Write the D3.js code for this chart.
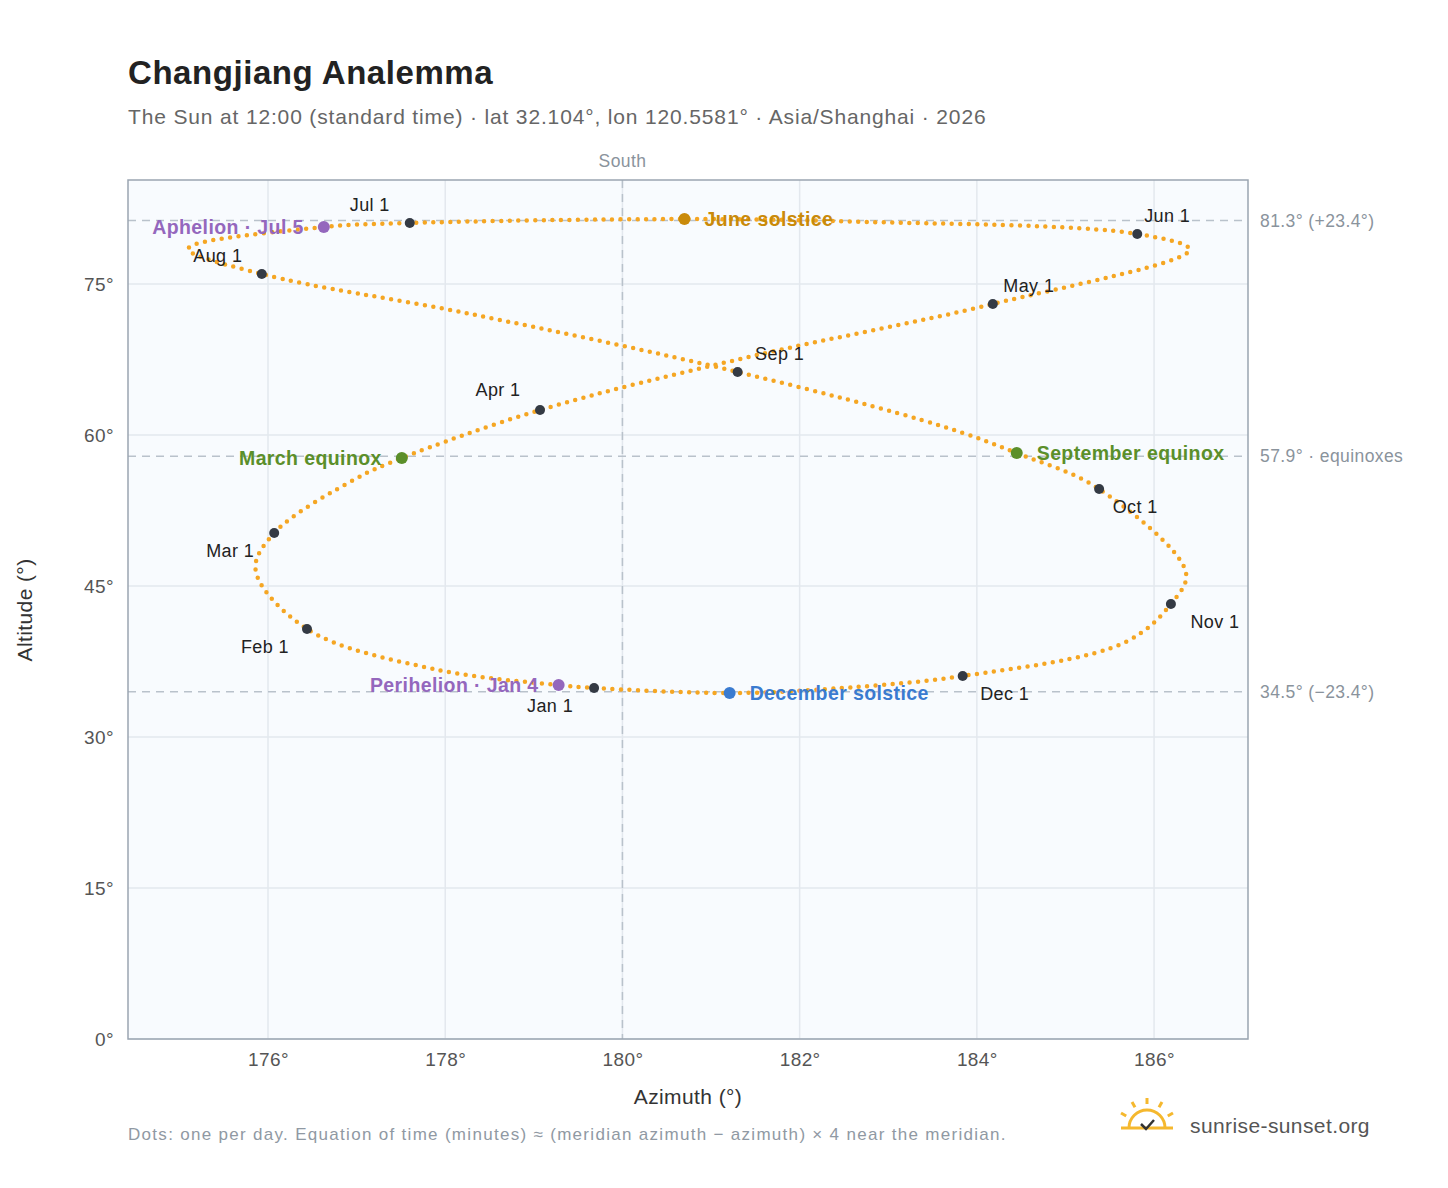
<!DOCTYPE html>
<html><head><meta charset="utf-8">
<script src="https://cdn.jsdelivr.net/npm/d3@7"></script>
<style>body{margin:0;background:#fff;font-family:"Liberation Sans",Arial,sans-serif} text{letter-spacing:0.4px}</style>
</head><body><svg id="c" width="1448" height="1188"></svg>
<script>
// Curve key points (date label, azimuth, altitude)
const curveDates = ["Jan 1","Jan 4","Jan 15","Feb 1","Feb 20","Mar 1","Mar 15","Mar 20","Apr 1","Apr 15","May 1","May 20","Jun 1","Jun 15","Jun 21","Jul 1","Jul 5","Jul 20","Aug 1","Aug 15","Sep 1","Sep 15","Sep 23","Oct 1","Oct 22","Nov 1","Nov 15","Dec 1","Dec 15","Dec 21"];
const curveAz = [179.68,179.28,177.9,176.44,175.86,176.07,177.0,177.51,179.07,181.45,184.18,186.4,185.81,182.6,180.70,177.60,176.63,175.1,175.93,178.3,181.30,183.6,184.45,185.38,186.36,186.19,185.67,183.84,182.2,181.21];
const curveAlt = [34.87,35.16,36.7,40.73,46.6,50.26,55.7,57.71,62.48,67.8,73.01,78.4,79.97,81.2,81.45,81.06,80.66,78.5,75.99,72.0,66.26,60.9,58.21,54.63,46.3,43.21,39.4,36.06,34.7,34.37];

const monthLabels = ["Jan 1","Feb 1","Mar 1","Apr 1","May 1","Jun 1","Jul 1","Aug 1","Sep 1","Oct 1","Nov 1","Dec 1"];
const monthAz = [179.68,176.44,176.07,179.07,184.18,185.81,177.60,175.93,181.30,185.38,186.19,183.84];
const monthAlt = [34.87,40.73,50.26,62.48,73.01,79.97,81.06,75.99,66.26,54.63,43.21,36.06];
const monthDx = [-44,-42,-44,-42,36,30,-40,-44,42,36,44,42];
const monthDy = [24,24,24,-14,-12,-12,-12,-12,-12,24,24,24];
const monthAnchor = ["middle","middle","middle","middle","middle","middle","middle","middle","middle","middle","middle","middle"];

const eventLabels = ["March equinox","September equinox","June solstice","December solstice","Perihelion · Jan 4","Aphelion · Jul 5"];
const eventAz = [177.51,184.45,180.70,181.21,179.28,176.63];
const eventAlt = [57.71,58.21,81.45,34.37,35.16,80.66];
const eventColor = ["#5b8f2a","#5b8f2a","#c98a0a","#3a7bd0","#9467bd","#9467bd"];
const eventAnchor = ["end","start","start","start","end","end"];

const refAlt = [81.3,57.9,34.5];
const refText = ["81.3° (+23.4°)","57.9° · equinoxes","34.5° (−23.4°)"];
const xTicks = [176,178,180,182,184,186];
const yTicks = [0,15,30,45,60,75];

const svg = d3.select("#c");
const L=128,R=1248,T=180,B=1039;
const x = d3.scaleLinear().domain([174.42,187.06]).range([L,R]);
const y = d3.scaleLinear().domain([0,85.33]).range([B,T]);

svg.append("text").attr("x",128).attr("y",84).attr("font-size",33).attr("font-weight","bold").attr("fill","#222").attr("textLength",365).text("Changjiang Analemma");
svg.append("text").attr("x",128).attr("y",124).attr("font-size",21).attr("fill","#666").attr("textLength",858).text("The Sun at 12:00 (standard time) · lat 32.104°, lon 120.5581° · Asia/Shanghai · 2026");

svg.append("rect").attr("x",L).attr("y",T).attr("width",R-L).attr("height",B-T).attr("fill","#f8fbfe");
const g = svg.append("g");
xTicks.forEach(t=>g.append("line").attr("x1",x(t)).attr("x2",x(t)).attr("y1",T).attr("y2",B).attr("stroke","#e3e8ee").attr("stroke-width",1.5));
yTicks.forEach(t=>g.append("line").attr("x1",L).attr("x2",R).attr("y1",y(t)).attr("y2",y(t)).attr("stroke","#e3e8ee").attr("stroke-width",1.5));
refAlt.forEach((a,i)=>{
  g.append("line").attr("x1",L).attr("x2",R).attr("y1",y(a)).attr("y2",y(a)).attr("stroke","#b9c2cb").attr("stroke-width",1.5).attr("stroke-dasharray","8,6");
  svg.append("text").attr("x",1260).attr("y",y(a)+6).attr("font-size",17.5).attr("fill","#8a939c").text(refText[i]);
});
g.append("line").attr("x1",x(180)).attr("x2",x(180)).attr("y1",T).attr("y2",B).attr("stroke","#b9c2cb").attr("stroke-width",1.5).attr("stroke-dasharray","8,6");
svg.append("text").attr("x",x(180)).attr("y",167).attr("text-anchor","middle").attr("font-size",17.5).attr("fill","#8a939c").text("South");
svg.append("rect").attr("x",L).attr("y",T).attr("width",R-L).attr("height",B-T).attr("fill","none").attr("stroke","#9aa5b1").attr("stroke-width",1.5);

const xa = svg.append("g").attr("transform",`translate(0,${B})`).call(d3.axisBottom(x).tickValues(xTicks).tickFormat(d=>d+"°").tickSize(0).tickPadding(14));
const ya = svg.append("g").attr("transform",`translate(${L},0)`).call(d3.axisLeft(y).tickValues(yTicks).tickFormat(d=>d+"°").tickSize(0).tickPadding(14));
[xa,ya].forEach(a=>{a.select(".domain").remove();a.selectAll("text").attr("font-size",19).attr("fill","#555").attr("font-family","Liberation Sans, Arial");});
svg.append("text").attr("x",688).attr("y",1104).attr("text-anchor","middle").attr("font-size",21).attr("fill","#333").text("Azimuth (°)");
svg.append("text").attr("transform","translate(32,610) rotate(-90)").attr("text-anchor","middle").attr("font-size",21).attr("fill","#333").text("Altitude (°)");

const pts = curveAz.map((a,i)=>[a,curveAlt[i]]);
const line = d3.line().x(d=>x(d[0])).y(d=>y(d[1])).curve(d3.curveCatmullRomClosed.alpha(0.5));
svg.append("path").attr("d",line(pts)).attr("fill","none").attr("stroke","#f5a623").attr("stroke-width",4.5).attr("stroke-linecap","round").attr("stroke-dasharray","0,8.5");

monthLabels.forEach((m,i)=>{
  svg.append("circle").attr("cx",x(monthAz[i])).attr("cy",y(monthAlt[i])).attr("r",5).attr("fill","#343a44");
  svg.append("text").attr("x",x(monthAz[i])+monthDx[i]).attr("y",y(monthAlt[i])+monthDy[i]).attr("text-anchor",monthAnchor[i]).attr("font-size",18).attr("fill","#222").text(m);
});
eventLabels.forEach((e,i)=>{
  svg.append("circle").attr("cx",x(eventAz[i])).attr("cy",y(eventAlt[i])).attr("r",6).attr("fill",eventColor[i]);
  svg.append("text").attr("x",x(eventAz[i])+(eventAnchor[i]=="start"?20:-20)).attr("y",y(eventAlt[i])+7).attr("text-anchor",eventAnchor[i]).attr("font-size",19.5).attr("font-weight","bold").attr("fill",eventColor[i]).text(e);
});

svg.append("text").attr("x",128).attr("y",1140).attr("font-size",17).attr("fill","#9099a3").attr("textLength",878).text("Dots: one per day. Equation of time (minutes) ≈ (meridian azimuth − azimuth) × 4 near the meridian.");
const lg = svg.append("g").attr("transform","translate(1147,1128)");
lg.append("path").attr("d","M-18,0 A18,18 0 0 1 18,0").attr("fill","none").attr("stroke","#f5b82e").attr("stroke-width",3);
[-150,-120,-90,-60,-30].forEach(a=>{const r=a*Math.PI/180;lg.append("line").attr("x1",24*Math.cos(r)).attr("y1",24*Math.sin(r)).attr("x2",30*Math.cos(r)).attr("y2",30*Math.sin(r)).attr("stroke","#f5b82e").attr("stroke-width",3);});
lg.append("line").attr("x1",-26).attr("x2",26).attr("y1",0).attr("y2",0).attr("stroke","#f5b82e").attr("stroke-width",3);
lg.append("path").attr("d","M-6,-4 L-1,1 L7,-8").attr("fill","none").attr("stroke","#333").attr("stroke-width",2.5);
svg.append("text").attr("x",1190).attr("y",1133).attr("font-size",21).attr("fill","#555").text("sunrise-sunset.org");
</script></body></html>
